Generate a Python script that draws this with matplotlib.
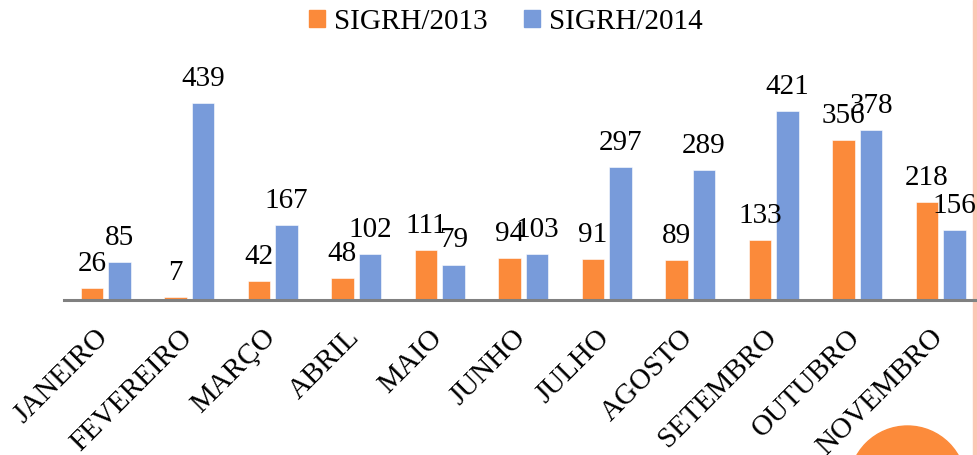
import matplotlib
matplotlib.use("Agg")
import matplotlib.pyplot as plt
import matplotlib.transforms as mtransforms
from matplotlib.patches import Patch, Circle, Rectangle
import numpy as np

# Dados
meses = ["JANEIRO", "FEVEREIRO", "MARÇO", "ABRIL", "MAIO", "JUNHO",
         "JULHO", "AGOSTO", "SETEMBRO", "OUTUBRO", "NOVEMBRO"]
sigrh_2013 = [26, 7, 42, 48, 111, 94, 91, 89, 133, 356, 218]
sigrh_2014 = [85, 439, 167, 102, 79, 103, 297, 289, 421, 378, 156]
series_labels = ["SIGRH/2013", "SIGRH/2014"]

cor_2013 = "#FB8A3A"
cor_2014 = "#789BDA"

plt.rcParams["font.family"] = ["Liberation Serif", "DejaVu Serif"]

W, H = 978, 455
fig = plt.figure(figsize=(W / 100, H / 100), dpi=100)
ax = fig.add_axes([64 / W, (H - 300) / H, (W - 64) / W, 240 / H])
ax.patch.set_alpha(0)

x = np.arange(len(meses))
largura = 0.27
desloc = 0.166

b1 = ax.bar(x - desloc, sigrh_2013, largura, color=cor_2013, edgecolor="white", linewidth=0.4)
b2 = ax.bar(x + desloc, sigrh_2014, largura, color=cor_2014, edgecolor="white", linewidth=0.4)

ax.bar_label(b1, padding=8, fontsize=21)
ax.bar_label(b2, padding=8, fontsize=21)

ax.set_xlim(-0.5, -0.5 + (W - 64) / 83.5)
ax.set_ylim(0, 535)

ax.set_xticks(x)
ax.set_xticklabels(meses, rotation=45, ha="right", fontsize=21)
ax.tick_params(axis="x", length=0, pad=14)
ax.set_yticks([])

# desloca os rótulos um pouco para a direita e para baixo
offset = mtransforms.ScaledTranslation(0.08, -0.05, fig.dpi_scale_trans)
for lbl in ax.get_xticklabels():
    lbl.set_transform(lbl.get_transform() + offset)

for lado in ["top", "right", "left"]:
    ax.spines[lado].set_visible(False)
ax.spines["bottom"].set_color("#808080")
ax.spines["bottom"].set_linewidth(2.2)

# Legenda
handles = [Patch(color=cor_2013, label=series_labels[0]),
           Patch(color=cor_2014, label=series_labels[1])]
fig.legend(handles=handles, loc="center", bbox_to_anchor=(506 / W, 1 - 22 / H),
           ncol=2, frameon=False, fontsize=21, handlelength=0.55, handleheight=0.53,
           handletextpad=0.3, columnspacing=1.25, borderaxespad=0)

# Decoração do slide
fig.add_artist(Circle((907.5 / 100, -29.5 / 100), 0.585, transform=fig.dpi_scale_trans,
                      color="#FC8B3B", zorder=5))
fig.add_artist(Rectangle((973 / W, 0), 5 / W, 1, transform=fig.transFigure,
                         color="#FBC6B4", zorder=-1))

fig.savefig("out.png", dpi=100)
